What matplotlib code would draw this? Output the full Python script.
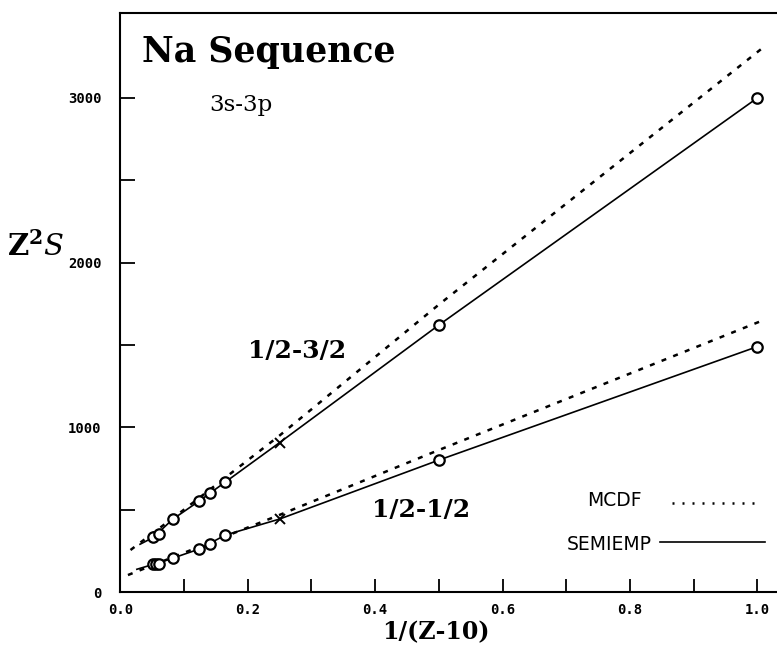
import matplotlib
matplotlib.use("Agg")
import matplotlib.pyplot as plt

# semi-empirical points (circles)
x_up = [0.052, 0.060, 0.082, 0.124, 0.141, 0.165, 0.5, 1.0]
y_up = [332, 352, 441, 553, 603, 668, 1621, 3000]
x_lo = [0.052, 0.056, 0.060, 0.082, 0.124, 0.141, 0.165, 0.5, 1.0]
y_lo = [168, 170, 172, 205, 261, 292, 346, 801, 1490]

# crosses at Z=14
x_cross = [0.25, 0.25]
y_cross = [907, 443]

# SEMIEMP curves
semi_up_x = [0.031, 0.052, 0.082, 0.124, 0.165, 0.25, 0.5, 1.0]
semi_up_y = [290, 332, 441, 553, 668, 907, 1621, 3000]
semi_lo_x = [0.026, 0.052, 0.082, 0.124, 0.165, 0.25, 0.5, 1.0]
semi_lo_y = [138, 168, 205, 261, 346, 443, 801, 1490]

# MCDF curves
mcdf_up_x = [0.016, 0.1, 0.25, 0.5, 1.007]
mcdf_up_y = [255, 500, 950, 1745, 3300]
mcdf_lo_x = [0.012, 0.25, 0.5, 1.007]
mcdf_lo_y = [103, 468, 862, 1647]

xticks = [0.1 * i for i in range(11)]
xlabels = ["0.0", "", "0.2", "", "0.4", "", "0.6", "", "0.8", "", "1.0"]
yticks = [0, 500, 1000, 1500, 2000, 2500, 3000]
ylabels = ["0", "", "1000", "", "2000", "", "3000"]

W, H = 777, 646
fig = plt.figure(figsize=(W / 100, H / 100), dpi=100)
ax = fig.add_axes([120.3 / W, 54 / H, 1 - 120.3 / W, 579 / H])

dash = (0, (2.0, 3.0))
ax.plot(mcdf_up_x, mcdf_up_y, color="black", lw=1.8, ls=dash)
ax.plot(mcdf_lo_x, mcdf_lo_y, color="black", lw=1.8, ls=dash)
ax.plot(semi_up_x, semi_up_y, color="black", lw=1.2)
ax.plot(semi_lo_x, semi_lo_y, color="black", lw=1.2)
ax.plot(x_up, y_up, ls="none", marker="o", ms=7.5, mfc="white", mec="black", mew=1.6)
ax.plot(x_lo, y_lo, ls="none", marker="o", ms=7.5, mfc="white", mec="black", mew=1.6)
ax.plot(x_cross, y_cross, ls="none", marker="x", ms=7, mec="black", mew=1.4)

ax.set_xlim(0, (W - 120.3) / 637)
ax.set_ylim(0, 579 / 0.16467)
ax.spines["right"].set_visible(False)
for s in ["left", "bottom", "top"]:
    ax.spines[s].set_linewidth(1.5)

ax.set_xticks(xticks)
ax.set_xticklabels(xlabels, family="DejaVu Sans Mono", fontweight="bold", fontsize=10)
ax.set_yticks(yticks)
ax.set_yticklabels(ylabels, family="DejaVu Sans Mono", fontweight="bold", fontsize=10)
ax.tick_params(axis="x", direction="in", length=9.5, width=1.3, pad=8)
ax.tick_params(axis="y", direction="in", length=11, width=1.3, pad=13.5)

fig.text(142 / W, 1 - 62 / H, "Na Sequence", family="DejaVu Serif", fontweight="bold",
         fontsize=25, ha="left", va="baseline")
fig.text(209 / W, 1 - 111 / H, "3s-3p", family="DejaVu Serif", fontsize=16.5,
         ha="left", va="baseline")
fig.text(248 / W, 1 - 358 / H, "1/2-3/2", family="DejaVu Serif", fontweight="bold",
         fontsize=18, ha="left", va="baseline")
fig.text(372 / W, 1 - 517 / H, "1/2-1/2", family="DejaVu Serif", fontweight="bold",
         fontsize=18, ha="left", va="baseline")
fig.text(436 / W, 1 - 632 / H, "1/(Z-10)", family="DejaVu Serif", fontweight="bold",
         fontsize=17, ha="center", va="center")
plt.rcParams["mathtext.fontset"] = "dejavuserif"
fig.text(36 / W, 1 - 247 / H, r"$\mathbf{Z}^{\mathbf{2}}\mathit{S}$", fontsize=21,
         ha="center", va="center")

# legend
leg_fam = ["Liberation Sans Narrow", "DejaVu Sans"]
fig.text(642 / W, 1 - 501 / H, "MCDF", family=leg_fam, fontsize=13.5, ha="right", va="center")
fig.text(652 / W, 1 - 544 / H, "SEMIEMP", family=leg_fam, fontsize=13.5, ha="right", va="center")
fig.add_artist(plt.Line2D([672 / W, 762 / W], [1 - 503 / H, 1 - 503 / H], color="black",
                          lw=1.8, ls=(0, (0.8, 3.2))))
fig.add_artist(plt.Line2D([660 / W, 765 / W], [1 - 542 / H, 1 - 542 / H], color="black", lw=1.2))

fig.savefig("out.png", dpi=100)
